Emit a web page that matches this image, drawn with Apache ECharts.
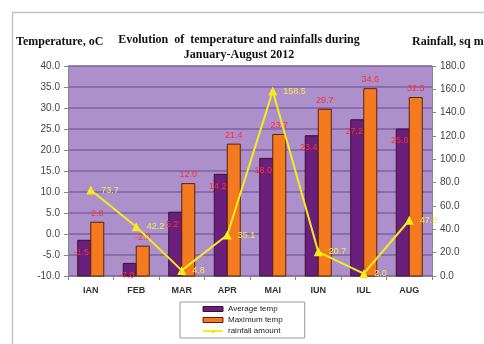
<!DOCTYPE html>
<html><head><meta charset="utf-8">
<script src="https://cdn.jsdelivr.net/npm/echarts@6/dist/echarts.min.js"></script>
<style>html,body{margin:0;padding:0;background:#fff}#c{width:484px;height:344px}</style>
</head><body><div id="c"></div>
<script>
const categories = ['IAN','FEB','MAR','APR','MAI','IUN','IUL','AUG'];
const avgTemp = [-1.5, -7.0, 5.2, 14.2, 18.0, 23.4, 27.2, 25.0];
const maxTemp = [2.8, -2.9, 12.0, 21.4, 23.7, 29.7, 34.6, 32.5];
const rainfall = [73.7, 42.2, 4.8, 35.1, 158.5, 20.7, 2.0, 47.8];
const leftTicks = {min: -10, max: 40, interval: 5};
const rightTicks = {min: 0, max: 180, interval: 20};

const chart = echarts.init(document.getElementById('c'), null, {renderer: 'canvas'});
const fmt = v => Number(v).toFixed(1);
const BAR_W = 13;

function barRenderer(side, fill, stroke, labelPos) {
  return function (params, api) {
    const cat = api.value(0), val = api.value(1);
    const top = api.coord([cat, val]);
    const base = api.coord([cat, leftTicks.min]);
    const x = side < 0 ? top[0] - BAR_W : top[0];
    const children = [{
      type: 'rect',
      shape: {x: x, y: top[1], width: BAR_W, height: base[1] - top[1]},
      style: {fill: fill, stroke: stroke, lineWidth: 1}
    }];
    const lx = labelPos === 'inside' ? x + BAR_W / 2 - 3 : x + BAR_W / 2;
    const ly = labelPos === 'inside' ? top[1] + 12 : top[1] - 9;
    children.push({
      type: 'text', z2: 10,
      style: {text: fmt(val), x: lx, y: ly, fill: '#ff3030', font: '9px Arial', textAlign: 'center', textVerticalAlign: 'middle'}
    });
    return {type: 'group', children: children};
  };
}

chart.setOption({
  backgroundColor: '#fff',
  animation: false,
  graphic: [
    {type: 'rect', left: 10, top: 10, shape: {width: 520, height: 400}, style: {fill: 'none', stroke: '#c4c4c4', lineWidth: 1.5}, z: -1},
    {type: 'text', left: 16, top: 36, style: {text: 'Temperature, oC', font: 'bold 12px "Liberation Serif"', fill: '#111'}},
    {type: 'text', left: 412, top: 36, style: {text: 'Rainfall, sq m', font: 'bold 12px "Liberation Serif"', fill: '#111'}}
  ],
  title: {
    text: 'Evolution  of  temperature and rainfalls during\nJanuary-August 2012',
    left: 234, top: 27, textAlign: 'center',
    textStyle: {fontFamily: 'Liberation Serif', fontWeight: 'bold', fontSize: 12, lineHeight: 15, color: '#111'}
  },
  grid: {left: 68, right: 52, top: 66, bottom: 68, show: true, backgroundColor: '#ad8fcb', borderWidth: 0},
  legend: {
    orient: 'vertical', left: 180, top: 302, width: 127,
    padding: [3, 22, 3, 22], itemGap: 3, itemWidth: 20, itemHeight: 5,
    borderColor: '#999', borderWidth: 1, backgroundColor: '#fff',
    textStyle: {fontFamily: 'Arial', fontSize: 8, color: '#222', padding: [0, 20, 0, 0]},
    data: [
      {name: 'Average temp', icon: 'rect', itemStyle: {color: '#6b1f7c', borderColor: '#3a1030', borderWidth: 1}},
      {name: 'Maximum temp', icon: 'rect', itemStyle: {color: '#f47a20', borderColor: '#5a2010', borderWidth: 1}},
      {name: 'rainfall amount'}
    ]
  },
  xAxis: {
    type: 'category', data: categories,
    axisLine: {show: true, onZero: false, lineStyle: {color: '#888'}},
    axisTick: {show: true, lineStyle: {color: '#888'}, length: 4},
    axisLabel: {fontFamily: 'Arial', fontWeight: 'bold', fontSize: 9, color: '#333', margin: 10}
  },
  yAxis: [
    {type: 'value', min: leftTicks.min, max: leftTicks.max, interval: leftTicks.interval,
     axisLine: {show: true, lineStyle: {color: '#888'}},
     axisTick: {show: true, lineStyle: {color: '#888'}, length: 4},
     axisLabel: {fontFamily: 'Arial', fontSize: 10, color: '#444', formatter: fmt, margin: 8},
     splitLine: {show: true, lineStyle: {color: '#7f5fa5', width: 1.5}}},
    {type: 'value', min: rightTicks.min, max: rightTicks.max, interval: rightTicks.interval,
     axisLine: {show: true, lineStyle: {color: '#888'}},
     axisTick: {show: true, lineStyle: {color: '#888'}, length: 4},
     axisLabel: {fontFamily: 'Arial', fontSize: 10, color: '#444', formatter: fmt, margin: 8},
     splitLine: {show: false}}
  ],
  series: [
    {name: 'Average temp', type: 'custom', data: avgTemp.map((v, i) => [i, v]),
     encode: {x: 0, y: 1}, itemStyle: {color: '#6b1f7c'},
     renderItem: barRenderer(-1, '#6b1f7c', '#3a1030', 'inside'), z: 2},
    {name: 'Maximum temp', type: 'custom', data: maxTemp.map((v, i) => [i, v]),
     encode: {x: 0, y: 1}, itemStyle: {color: '#f47a20'},
     renderItem: barRenderer(1, '#f47a20', '#5a2010', 'top'), z: 2},
    {name: 'rainfall amount', type: 'line', yAxisIndex: 1, data: rainfall,
     symbol: 'triangle', symbolSize: 9,
     lineStyle: {color: '#f2ee1a', width: 2}, itemStyle: {color: '#f2ee1a'},
     label: {show: true, position: 'right', distance: 6, color: '#f4ee50', fontFamily: 'Arial', fontSize: 9, formatter: p => fmt(p.value)},
     z: 5}
  ]
});
</script></body></html>
